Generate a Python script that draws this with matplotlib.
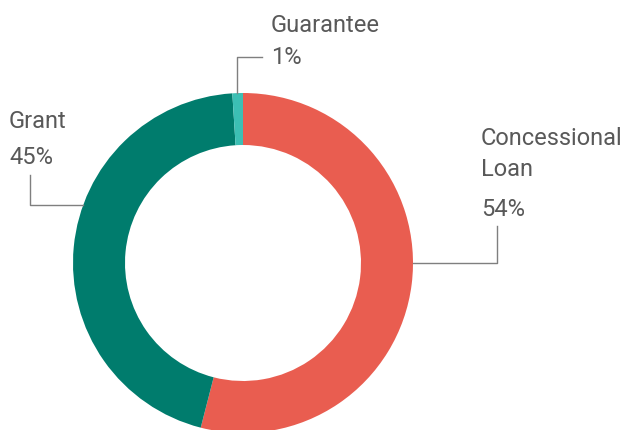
import numpy as np
import matplotlib.pyplot as plt

labels = ['Concessional\nLoan', 'Grant', 'Guarantee']
shares = [54, 45, 1]
colors = ['#E95D50', '#007C6D', '#3CBFB4']

plt.rcParams['font.family'] = ['Roboto', 'DejaVu Sans']
text_color = '#595959'
line_color = '#7F7F7F'

fig = plt.figure(figsize=(6.22, 4.30), dpi=100)
ax = fig.add_axes([0, 0, 1, 1])

cx, cy, r = 243, 167, 170
ax.pie(shares, colors=colors, startangle=90, counterclock=False,
       center=(cx, cy), radius=r, frame=True,
       wedgeprops=dict(width=52, linewidth=0))
ax.set_xlim(0, 622)
ax.set_ylim(0, 430)
ax.set_aspect('equal')
ax.axis('off')


def ring_point(angle_deg):
    a = np.deg2rad(angle_deg)
    return cx + r * np.cos(a), cy + r * np.sin(a)


# elbow leader lines from the outer ring to each label
x0, y0 = ring_point(92)
ax.plot([x0, x0, 262], [y0, 373, 373], color=line_color, lw=1)
x1, y1 = ring_point(160)
ax.plot([x1, 30, 30], [225, 225, 255], color=line_color, lw=1)
x2, y2 = ring_point(0)
ax.plot([x2, 497, 497], [y2, y2, 204], color=line_color, lw=1)

fs = 17
ax.text(271, 405, labels[2], fontsize=fs, color=text_color, va='center')
ax.text(271, 373, f'{shares[2]}%', fontsize=fs, color=text_color, va='center')
ax.text(9, 308, labels[1], fontsize=fs, color=text_color, va='center')
ax.text(9, 273, f'{shares[1]}%', fontsize=fs, color=text_color, va='center')
ax.text(481, 276, labels[0], fontsize=fs, color=text_color, va='center',
        linespacing=1.45)
ax.text(481, 220, f'{shares[0]}%', fontsize=fs, color=text_color, va='center')

fig.savefig('out.png', dpi=100)
